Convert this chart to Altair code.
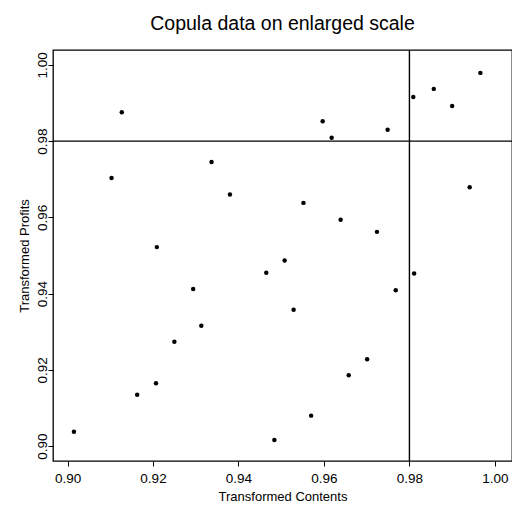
import altair as alt
import pandas as pd

contents = [0.9127, 0.9103, 0.9337, 0.9380, 0.9209, 0.9809, 0.9857, 0.9900,
            0.9966, 0.9597, 0.9618, 0.9749, 0.9941, 0.9552, 0.9639, 0.9724,
            0.9465, 0.9294, 0.9313, 0.9250, 0.9207, 0.9163, 0.9015, 0.9484,
            0.9508, 0.9811, 0.9768, 0.9529, 0.9701, 0.9658, 0.9570]
profits = [0.9876, 0.9703, 0.9745, 0.9660, 0.9522, 0.9916, 0.9937, 0.9892,
           0.9979, 0.9852, 0.9809, 0.9830, 0.9679, 0.9638, 0.9594, 0.9562,
           0.9455, 0.9412, 0.9316, 0.9274, 0.9165, 0.9135, 0.9038, 0.9016,
           0.9487, 0.9453, 0.9409, 0.9358, 0.9228, 0.9186, 0.9080]
threshold_x = [0.98]
threshold_y = [0.98]
x_ticks = [0.90, 0.92, 0.94, 0.96, 0.98, 1.00]
y_ticks = [0.90, 0.92, 0.94, 0.96, 0.98, 1.00]

df = pd.DataFrame({"contents": contents, "profits": profits})
FONT = "Liberation Sans"

xscale = alt.Scale(domain=[0.8966, 1.0040], nice=False, zero=False)
yscale = alt.Scale(domain=[0.8961, 1.0039], nice=False, zero=False)

points = alt.Chart(df).mark_circle(size=20, color="black", opacity=1).encode(
    x=alt.X("contents:Q", scale=xscale,
            axis=alt.Axis(title="Transformed Contents", values=x_ticks, format=".2f",
                          labelFontSize=13.5, titleFontSize=13, labelPadding=5,
                          titlePadding=6, titleFontWeight="normal", grid=False)),
    y=alt.Y("profits:Q", scale=yscale,
            axis=alt.Axis(title="Transformed Profits", values=y_ticks, format=".2f",
                          labelAngle=270, labelAlign="center", labelBaseline="alphabetic",
                          labelFontSize=13.5, titleFontSize=13, labelPadding=2,
                          titlePadding=4, titleFontWeight="normal", grid=False)),
)

hline = alt.Chart(pd.DataFrame({"y": threshold_y})).mark_rule(
    color="black", strokeWidth=1.4).encode(y=alt.Y("y:Q", scale=yscale))
vline = alt.Chart(pd.DataFrame({"x": threshold_x})).mark_rule(
    color="black", strokeWidth=1.4).encode(x=alt.X("x:Q", scale=xscale))

chart = alt.layer(points, hline, vline).properties(
    width=459, height=411,
    background="white",
    title=alt.TitleParams("Copula data on enlarged scale", font=FONT, fontSize=19.5,
                          fontWeight="normal", color="black", offset=15, anchor="middle"),
    autosize=alt.AutoSizeParams(type="none"),
    padding={"left": 53, "top": 50, "right": 0, "bottom": 52},
).configure_view(stroke="black", strokeWidth=1.3).configure_axis(
    grid=False, domain=False, tickColor="black", tickSize=5, tickWidth=1,
    labelColor="black", titleColor="black", labelFont=FONT, titleFont=FONT,
)

chart.save("out.html", embed_options={"renderer": "svg", "actions": False})
